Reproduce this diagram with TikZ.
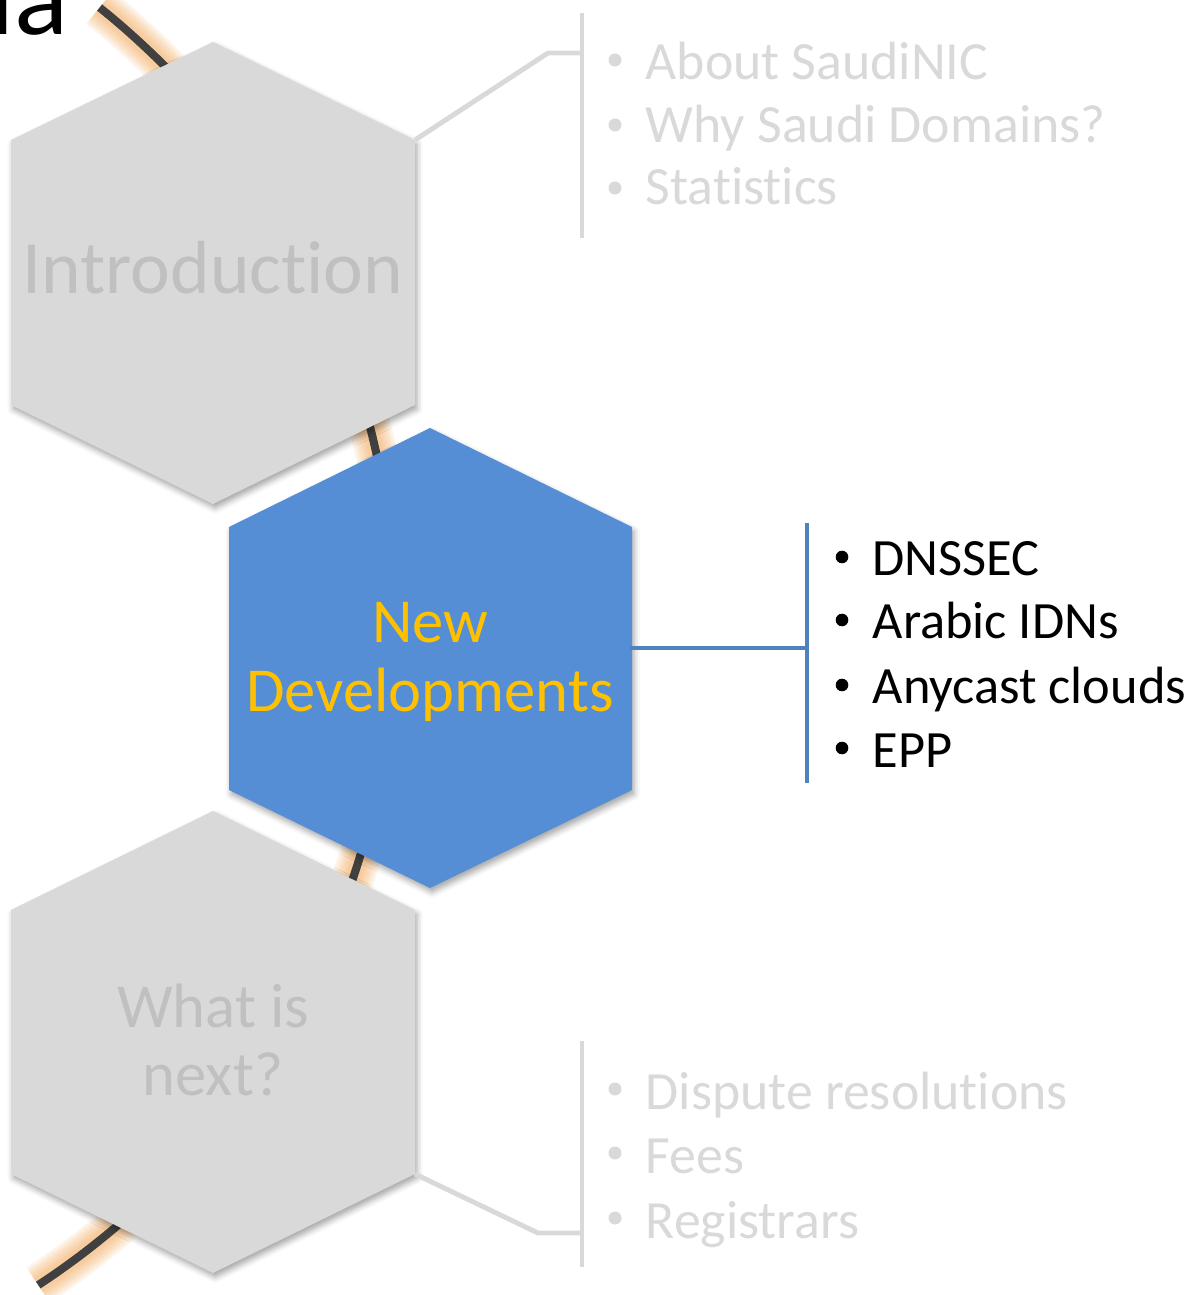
\documentclass[tikz,border=0pt]{standalone}
\usepackage{fontspec}
\setmainfont{Carlito}[Ligatures=NoCommon]
\usetikzlibrary{shadows.blur}
\definecolor{hexgray}{HTML}{D9D9D9}
\definecolor{hexblue}{HTML}{558ED5}
\definecolor{goldtxt}{HTML}{FFC000}
\definecolor{labgray}{HTML}{C0C0C0}
\definecolor{linegray}{HTML}{D9D9D9}
\definecolor{lineblue}{HTML}{4F81BD}
\definecolor{glowcol}{HTML}{F0A04C}
\definecolor{curvecol}{HTML}{404040}
\newcommand{\nolig}{\kern0pt }
\tikzset{
  hexgrey/.style={fill=hexgray, blur shadow={shadow xshift=0.6pt, shadow yshift=-1.2pt, shadow blur radius=1.6pt, shadow opacity=35}},
  hexblu/.style={fill=hexblue, blur shadow={shadow xshift=0.6pt, shadow yshift=-1.2pt, shadow blur radius=1.6pt, shadow opacity=35}},
  hexlabel/.style={inner sep=0pt, align=center, font=\fontsize{17.8}{19.6}\selectfont},
  graybracket/.style={draw=linegray, line width=1.4pt},
  bluebracket/.style={draw=lineblue, line width=1.3pt},
  grayitem/.style={anchor=base west, inner sep=0pt, text=linegray, font=\fontsize{15.3}{18}\selectfont},
  blackitem/.style={anchor=base west, inner sep=0pt, text=black, font=\fontsize{14.9}{18}\selectfont},
}
\begin{document}
\begin{tikzpicture}[x=0.01cm, y=-0.01cm]
\useasboundingbox (0,0) rectangle (1197,1295);
\clip (0,0) rectangle (1197,1295);

% title fragment
\node[anchor=base east, inner sep=0pt, font=\fontsize{32}{36}\selectfont] (title) at (69,35) {Agenda};

% glowing curve
\foreach \w in {12pt, 10.5pt, 9pt, 7.5pt, 6pt, 4.5pt}
  \draw[glowcol, line width=\w, opacity=0.12] plot[domain=-51.2:56.7, samples=90, smooth] ({-396+791*cos(\x)}, {624+791*sin(\x)});
\draw[curvecol, line width=2.3pt] plot[domain=-51.2:56.7, samples=90, smooth] ({-396+791*cos(\x)}, {624+791*sin(\x)});

% hexagon corners
\coordinate (i-t) at (213,42);  \coordinate (i-ur) at (415,140); \coordinate (i-lr) at (415,405);
\coordinate (i-b) at (213,504); \coordinate (i-ll) at (11,405);  \coordinate (i-ul) at (11,140);
\coordinate (d-t) at (430,428); \coordinate (d-ur) at (632,527); \coordinate (d-lr) at (632,790);
\coordinate (d-b) at (430,888); \coordinate (d-ll) at (229,790); \coordinate (d-ul) at (229,527);
\coordinate (n-t) at (213,811); \coordinate (n-ur) at (415,910); \coordinate (n-lr) at (415,1174);
\coordinate (n-b) at (213,1273);\coordinate (n-ll) at (11,1174); \coordinate (n-ul) at (11,910);

\path[hexgrey] (i-t) -- (i-ur) -- (i-lr) -- (i-b) -- (i-ll) -- (i-ul) -- cycle;
\path[hexgrey] (n-t) -- (n-ur) -- (n-lr) -- (n-b) -- (n-ll) -- (n-ul) -- cycle;
\path[hexblu] (d-t) -- (d-ur) -- (d-lr) -- (d-b) -- (d-ll) -- (d-ul) -- cycle;

% hexagon labels
\node[inner sep=0pt, anchor=base, text=labgray, font=\fontsize{21.4}{24}\selectfont] (intro) at (213,294) {Introduct\nolig ion};
\node[hexlabel, text=goldtxt] (newdev) at (430,662) {New\\Developments};
\node[hexlabel, text=labgray] (next) at (213,1040) {What is\\next?};

% top bracket
\coordinate (tb-top) at (582,13); \coordinate (tb-bot) at (582,238);
\coordinate (tb-bend) at (548,53); \coordinate (tb-join) at (582,53);
\draw[graybracket] (tb-top) -- (tb-bot);
\draw[graybracket, line join=round] (i-ur) -- (tb-bend) -- (tb-join);

% middle bracket
\coordinate (mb-top) at (807,523); \coordinate (mb-bot) at (807,783);
\coordinate (mb-start) at (630,648); \coordinate (mb-join) at (807,648);
\draw[bluebracket] (mb-top) -- (mb-bot);
\draw[bluebracket] (mb-start) -- (mb-join);

% bottom bracket
\coordinate (bb-top) at (582,1041); \coordinate (bb-bot) at (582,1267);
\coordinate (bb-bend) at (538,1233); \coordinate (bb-join) at (582,1233);
\draw[graybracket] (bb-top) -- (bb-bot);
\draw[graybracket, line join=round] (n-lr) -- (bb-bend) -- (bb-join);

% top items
\foreach \y in {60,125,188} \fill[linegray] (615,\y) circle[radius=6.5];
\node[grayitem] (a1) at (645,80) {About SaudiNIC};
\node[grayitem] (a2) at (645,143) {Why Saudi Domains?};
\node[grayitem] (a3) at (645,205) {Stat\nolig ist\nolig ics};

% middle items
\foreach \y in {557,620,685,748} \fill[black] (842,\y) circle[radius=6.3];
\node[blackitem] (b1) at (872,575) {DNSSEC};
\node[blackitem] (b2) at (872,638) {Arabic IDNs};
\node[blackitem] (b3) at (872,703) {Anycast clouds};
\node[blackitem] (b4) at (872,767) {EPP};

% bottom items
\foreach \y in {1089,1153,1218} \fill[linegray] (615,\y) circle[radius=6.5];
\node[grayitem] (c1) at (645,1109) {Dispute resolut\nolig ions};
\node[grayitem] (c2) at (645,1173) {Fees};
\node[grayitem] (c3) at (645,1238) {Registrars};
\end{tikzpicture}
\end{document}
